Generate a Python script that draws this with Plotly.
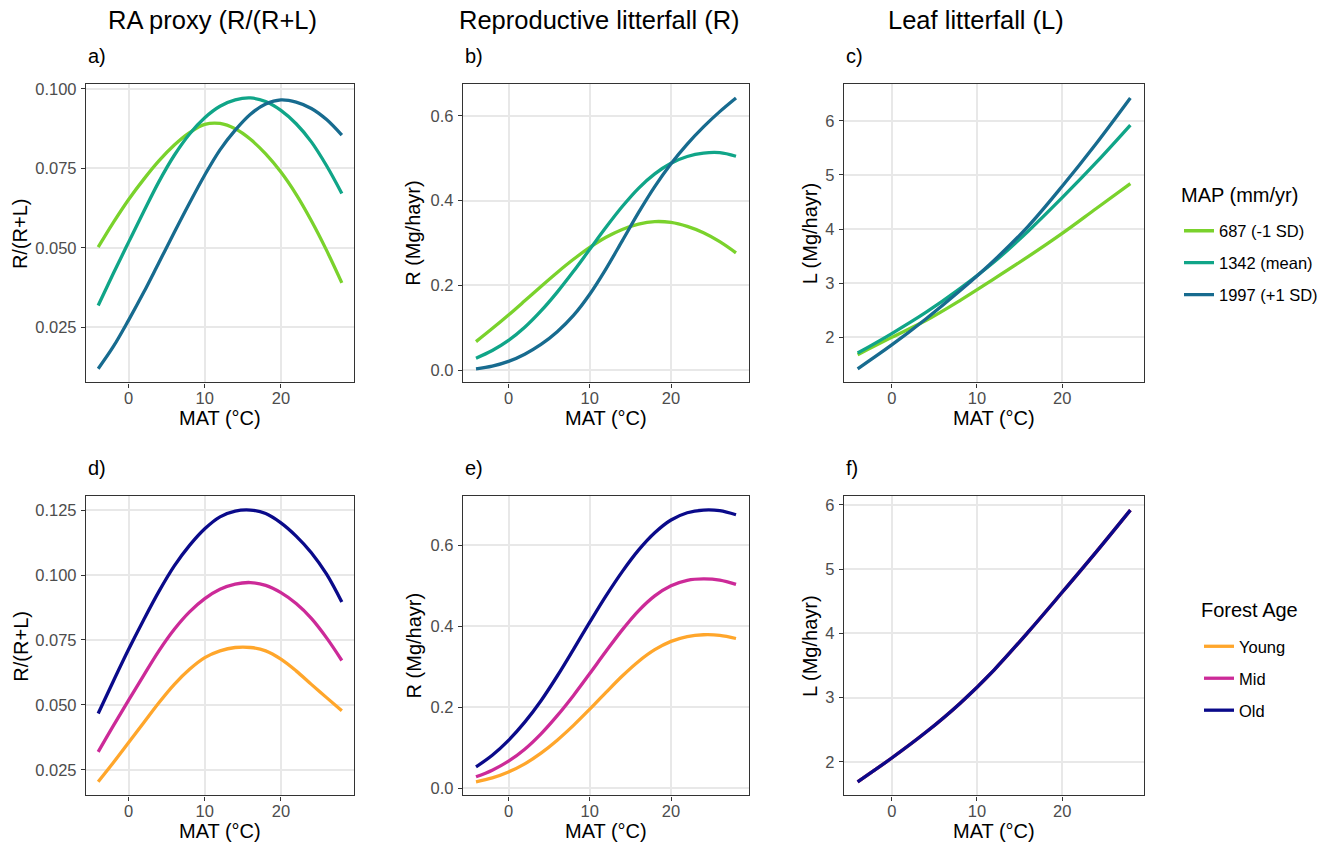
import plotly.graph_objects as go

# ---------------- data ----------------
MAT_FINE = [-4, -2, 0, 2, 4, 6, 8, 10, 12, 14, 16, 18, 20, 22, 24, 26, 28]
MAT_COARSE = [-4, 0, 4, 8, 12, 16, 20, 24, 28]

MAP_LABELS = ["687 (-1 SD)", "1342 (mean)", "1997 (+1 SD)"]
AGE_LABELS = ["Young", "Mid", "Old"]

# a) RA proxy by MAP
ra_687 = [0.0502, 0.0580, 0.0652, 0.0716, 0.0774, 0.0823, 0.0862, 0.0888, 0.0891,
          0.0874, 0.0841, 0.0795, 0.0738, 0.0668, 0.0585, 0.0492, 0.0390]
ra_1342 = [0.0319, 0.0420, 0.0518, 0.0615, 0.0709, 0.0791, 0.0858, 0.0909, 0.0945,
           0.0965, 0.0971, 0.0960, 0.0932, 0.0890, 0.0833, 0.0758, 0.0671]
ra_1997 = [0.0120, 0.0190, 0.0273, 0.0361, 0.0455, 0.0549, 0.0641, 0.0729, 0.0808,
           0.0870, 0.0920, 0.0952, 0.0965, 0.0958, 0.0938, 0.0903, 0.0854]

# b) Reproductive litterfall by MAP
r_687 = [0.0672, 0.0980, 0.1300, 0.1635, 0.1975, 0.2305, 0.2615, 0.2895, 0.3135,
         0.3320, 0.3445, 0.3505, 0.3485, 0.3390, 0.3240, 0.3030, 0.2766]
r_1342 = [0.0281, 0.0461, 0.0700, 0.1010, 0.1395, 0.1840, 0.2330, 0.2850, 0.3370,
          0.3860, 0.4290, 0.4630, 0.4880, 0.5040, 0.5120, 0.5130, 0.5047]
r_1997 = [0.0031, 0.0094, 0.0205, 0.0375, 0.0605, 0.0905, 0.1290, 0.1790, 0.2390,
          0.3050, 0.3715, 0.4330, 0.4870, 0.5335, 0.5740, 0.6100, 0.6422]

# c) Leaf litterfall by MAP
l_687 = [1.68, 2.00, 2.31, 2.68, 3.08, 3.49, 3.92, 4.38, 4.84]
l_1342 = [1.71, 2.07, 2.46, 2.90, 3.39, 3.96, 4.58, 5.23, 5.92]
l_1997 = [1.42, 1.86, 2.34, 2.86, 3.42, 4.05, 4.79, 5.58, 6.42]

# d) RA proxy by forest age
ra_young = [0.0204, 0.0278, 0.0355, 0.0432, 0.0509, 0.0579, 0.0637, 0.0682, 0.0708,
            0.0721, 0.0721, 0.0708, 0.0676, 0.0631, 0.0579, 0.0528, 0.0477]
ra_mid = [0.0319, 0.0420, 0.0518, 0.0615, 0.0709, 0.0791, 0.0858, 0.0909, 0.0945,
          0.0965, 0.0971, 0.0960, 0.0932, 0.0890, 0.0833, 0.0758, 0.0671]
ra_old = [0.0467, 0.0592, 0.0714, 0.0829, 0.0938, 0.1035, 0.1114, 0.1178, 0.1224,
          0.1246, 0.1250, 0.1237, 0.1201, 0.1150, 0.1086, 0.1003, 0.0896]

# e) Reproductive litterfall by forest age
r_young = [0.0156, 0.0254, 0.0400, 0.0600, 0.0865, 0.1185, 0.1550, 0.1950, 0.2365,
           0.2770, 0.3130, 0.3420, 0.3625, 0.3745, 0.3790, 0.3775, 0.3697]
r_mid = [0.0279, 0.0443, 0.0664, 0.0960, 0.1340, 0.1790, 0.2290, 0.2830, 0.3380,
         0.3910, 0.4380, 0.4750, 0.5000, 0.5135, 0.5170, 0.5140, 0.5033]
r_old = [0.0525, 0.0811, 0.1180, 0.1630, 0.2160, 0.2770, 0.3430, 0.4100, 0.4750,
         0.5350, 0.5880, 0.6310, 0.6625, 0.6805, 0.6870, 0.6855, 0.6754]

# f) Leaf litterfall by forest age (identical for all ages, lines overlap)
l_young = [1.69, 2.06, 2.46, 2.91, 3.43, 4.02, 4.64, 5.27, 5.92]
l_mid = [1.69, 2.06, 2.46, 2.91, 3.43, 4.02, 4.64, 5.27, 5.92]
l_old = [1.69, 2.06, 2.46, 2.91, 3.43, 4.02, 4.64, 5.27, 5.92]

MAP_COLORS = ["#7AD22C", "#10A588", "#176B8F"]
AGE_COLORS = ["#FFA62B", "#CC2A98", "#0A0A8A"]

COL_TITLES = ["RA proxy (R/(R+L)", "Reproductive litterfall (R)", "Leaf litterfall (L)"]
TAGS = ["a)", "b)", "c)", "d)", "e)", "f)"]
Y_TITLES = ["R/(R+L)", "R (Mg/hayr)", "L (Mg/hayr)"] * 2
X_TITLE = "MAT (°C)"
LEGEND_TITLES = ["MAP (mm/yr)", "Forest Age"]

# ---------------- layout geometry (pixels) ----------------
W, H = 1332, 848
FONT = "Liberation Sans, Arial, Helvetica, sans-serif"
COLS = [(86, 354), (463, 749), (844, 1144)]
ROWS = [(80, 380), (495, 796)]

panels = [
    (MAT_FINE, [ra_687, ra_1342, ra_1997]),
    (MAT_FINE, [r_687, r_1342, r_1997]),
    (MAT_COARSE, [l_687, l_1342, l_1997]),
    (MAT_FINE, [ra_young, ra_mid, ra_old]),
    (MAT_FINE, [r_young, r_mid, r_old]),
    (MAT_COARSE, [l_young, l_mid, l_old]),
]
y_formats = [".3f", ".1f", "d", ".3f", ".1f", "d"]
y_dticks = [0.025, 0.2, 1, 0.025, 0.2, 1]

fig = go.Figure()
layout = {}
annotations = []

for i in range(6):
    r, c = divmod(i, 3)
    xl, xr = COLS[c]
    yt, yb = ROWS[r]
    ax = "" if i == 0 else str(i + 1)
    xs, series = panels[i]
    labels = MAP_LABELS if r == 0 else AGE_LABELS
    colors = MAP_COLORS if r == 0 else AGE_COLORS
    legend = "legend" if r == 0 else "legend2"
    for vals, lab, col in zip(series, labels, colors):
        fig.add_trace(go.Scatter(
            x=xs, y=vals, mode="lines", name=lab,
            line=dict(color=col, width=3.3, shape="spline", smoothing=1.0),
            xaxis="x" + ax, yaxis="y" + ax,
            legendgroup=lab, showlegend=(c == 0), legend=legend,
        ))
    allv = [v for s in series for v in s]
    lo, hi = min(allv), max(allv)
    pad = (hi - lo) * 0.05
    xpad = (max(xs) - min(xs)) * 0.05
    common = dict(
        showline=True, mirror=True, linecolor="#333333", linewidth=1.4,
        ticks="outside", ticklen=4, tickwidth=1.1, tickcolor="#333333",
        showgrid=True, gridcolor="#E8E8E8", gridwidth=1.5, zeroline=False,
        tickfont=dict(family=FONT, size=16.5, color="#4D4D4D"),
    )
    layout["xaxis" + ax] = dict(
        common, domain=[xl / W, xr / W], anchor="y" + ax,
        range=[min(xs) - xpad, max(xs) + xpad], tickvals=[0, 10, 20],
        ticklabelstandoff=-3,
    )
    layout["yaxis" + ax] = dict(
        common, domain=[1 - yb / H, 1 - yt / H], anchor="x" + ax,
        range=[lo - pad, hi + pad], dtick=y_dticks[i], tick0=0,
        tickformat=y_formats[i], ticklabelstandoff=1,
    )
    annotations.append(dict(
        text=TAGS[i], x=xl / W, y=1 - (yt - 29) / H, xref="paper", yref="paper",
        xanchor="left", yanchor="middle", showarrow=False,
        font=dict(family=FONT, size=20, color="black"),
    ))
    annotations.append(dict(
        text=X_TITLE, x=(xl + xr) / 2 / W, y=1 - (yb + 36) / H,
        xref="paper", yref="paper", xanchor="center", yanchor="middle",
        showarrow=False, font=dict(family=FONT, size=20, color="black"),
    ))
    ytx = [20.7, 413.5, 810][c]
    annotations.append(dict(
        text=Y_TITLES[i], x=ytx / W, y=1 - (yt + yb) / 2 / H,
        xref="paper", yref="paper", xanchor="center", yanchor="middle",
        textangle=-90, showarrow=False,
        font=dict(family=FONT, size=20, color="black"),
    ))

for t, cx in zip(COL_TITLES, [212, 599, 976]):
    annotations.append(dict(
        text=t, x=cx / W, y=1 - 15 / H, xref="paper", yref="paper",
        xanchor="center", yanchor="middle", showarrow=False,
        font=dict(family=FONT, size=25.5, color="black"),
    ))

# legend titles
for t, (lx, ly) in zip(LEGEND_TITLES, [(1179, 191), (1199, 609)]):
    annotations.append(dict(
        text=t, x=lx / W, y=1 - ly / H, xref="paper", yref="paper",
        xanchor="left", yanchor="middle", showarrow=False,
        font=dict(family=FONT, size=20, color="black"),
    ))

leg_common = dict(
    xanchor="left", yanchor="top", bgcolor="rgba(0,0,0,0)", borderwidth=0,
    font=dict(family=FONT, size=16.5, color="black"), tracegroupgap=7.5,
)
layout["legend"] = dict(leg_common, x=1179 / W, y=1 - 210 / H)
layout["legend2"] = dict(leg_common, x=1199 / W, y=1 - 628.5 / H)

fig.update_layout(
    width=W, height=H, autosize=False,
    margin=dict(l=0, r=0, t=0, b=0),
    paper_bgcolor="white", plot_bgcolor="white",
    annotations=annotations, showlegend=True,
    **layout,
)

fig.write_html(
    "out.html",
    config={"displayModeBar": False},
    post_script="document.body.style.margin='0px';",
)
